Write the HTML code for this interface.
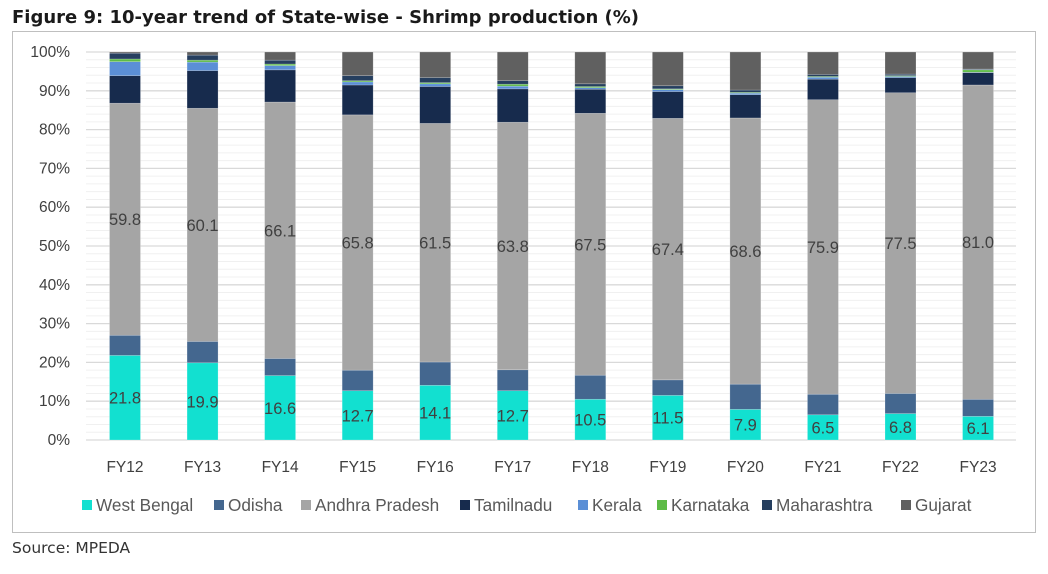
<!DOCTYPE html>
<html><head><meta charset="utf-8"><style>
body{margin:0;background:#fff;font-family:"Liberation Sans",sans-serif;}
svg{display:block}
</style></head><body>
<svg id="chart" width="1048" height="574">
<text x="12" y="23" font-size="18" font-weight="bold" font-family="DejaVu Sans, sans-serif" fill="#1a1a1a">Figure 9: 10-year trend of State-wise - Shrimp production (%)</text>
<rect x="12.5" y="31.5" width="1023" height="501" fill="none" stroke="#bfbfbf"/>
<text x="12" y="553" font-size="15.5" font-family="DejaVu Sans, sans-serif" fill="#333">Source: MPEDA</text>
<g id="grid"></g><g id="bars"></g><g id="axes"></g><g id="legend"></g>
</svg>
<script>
const categories=["FY12","FY13","FY14","FY15","FY16","FY17","FY18","FY19","FY20","FY21","FY22","FY23"];
const westBengal=[21.8,19.9,16.6,12.7,14.1,12.7,10.5,11.5,7.9,6.5,6.8,6.1];
const odisha=[5.2,5.5,4.4,5.3,6.0,5.4,6.2,4.0,6.5,5.3,5.2,4.4];
const andhraPradesh=[59.8,60.1,66.1,65.8,61.5,63.8,67.5,67.4,68.6,75.9,77.5,81.0];
const tamilnadu=[7.1,9.7,8.3,7.7,9.5,8.6,6.2,6.9,6.0,5.3,3.9,3.2];
const kerala=[3.6,2.2,1.1,0.8,0.7,0.7,0.4,0.5,0.4,0.5,0.3,0.1];
const karnataka=[0.7,0.5,0.4,0.3,0.3,0.5,0.3,0.2,0.2,0.2,0.2,0.6];
const maharashtra=[1.5,1.3,1.0,1.3,1.3,0.9,0.7,0.8,0.6,0.5,0.4,0.2];
const gujarat=[0.3,0.8,2.1,6.1,6.6,7.4,8.2,8.7,9.8,5.8,5.7,4.4];
const yTicks=["0%","10%","20%","30%","40%","50%","60%","70%","80%","90%","100%"];
const seriesNames=["West Bengal","Odisha","Andhra Pradesh","Tamilnadu","Kerala","Karnataka","Maharashtra","Gujarat"];
const series=[westBengal,odisha,andhraPradesh,tamilnadu,kerala,karnataka,maharashtra,gujarat];
const colors=["#12e0d0","#44678f","#a5a5a5","#172b4d","#5b8fd6","#5dbb46","#263f5f","#606060"];
const labeled=[true,false,true,false,false,false,false,false];
const NS="http://www.w3.org/2000/svg";
const y0=440,y1=52,x0=125,dx=77.55,bw=31;
const yS=p=>y0-(y0-y1)*p/100;
const xS=i=>x0+dx*i;
function mk(tag,attrs,parent){const e=document.createElementNS(NS,tag);for(const k in attrs)e.setAttribute(k,attrs[k]);parent.appendChild(e);return e;}
const grid=document.getElementById('grid'),bars=document.getElementById('bars'),axes=document.getElementById('axes'),legend=document.getElementById('legend');
for(let p=0;p<=100;p+=2){const major=p%10===0;
 const l=mk('line',{x1:86,x2:1016,y1:yS(p),y2:yS(p),stroke:major?'#d9d9d9':'#f0f0f0','stroke-width':major?1.3:1},grid);
 
 }
yTicks.forEach((t,i)=>{const tx=mk('text',{x:70,y:yS(i*10)+5,'text-anchor':'end','font-size':15.5,fill:'#404040'},axes);tx.textContent=t;
 
 });
categories.forEach((c,i)=>{
 let tot=0;series.forEach(s=>tot+=s[i]);
 let cum=0;
 series.forEach((s,k)=>{const v=s[i]/tot*100;const top=yS(cum+v),bot=yS(cum);
  const r=mk('rect',{x:xS(i)-bw/2,y:top,width:bw,height:Math.max(bot-top,0),fill:colors[k],stroke:'#ffffff','stroke-opacity':0.35,'stroke-width':0.6},bars);
  
  
  if(labeled[k]){const t=mk('text',{x:xS(i),y:(top+bot)/2+6,'text-anchor':'middle','font-size':16.5,fill:'#404040'},bars);t.textContent=s[i].toFixed(1);
   
   }
  cum+=v;});
 const xt=mk('text',{x:xS(i),y:472,'text-anchor':'middle','font-size':15.5,fill:'#404040'},axes);xt.textContent=c;
 
 
});
const lx=[82,214,301,460,578,657,762,901];
seriesNames.forEach((n,k)=>{
 const g=mk('g',{},legend);
 
 
 mk('rect',{x:lx[k],y:500,width:10,height:10,fill:colors[k]},g);
 const t=mk('text',{x:lx[k]+14,y:511,'font-size':17.2,fill:'#595959'},g);t.textContent=n;
});
</script>
</body></html>
